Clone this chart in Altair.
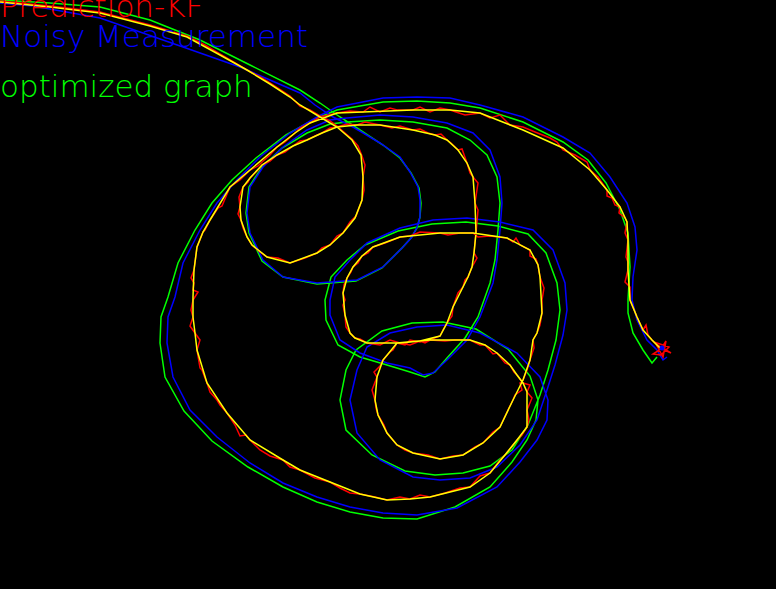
import altair as alt
import pandas as pd

# Path coordinates (pixel-like units, y grows downward)
yellow_pts = [
(0,2),(50,7),(100,13),(150,26),(187,37),(220,55),(247,70),(270,84),(290,97),(300,105),(320,117),(337,127),(352,140),(361,155),(363,177),(362,200),(355,218),(343,233),(330,245),(317,253),(290,263),(267,257),(252,245),(247,237),(241,220),(240,207),(243,187),(250,178),(262,165),(277,155),(293,146),(307,140),(322,133),(337,127),(357,125),(380,125),(413,130),(435,135),(447,140),(458,150),(467,163),(473,177),(475,203),(476,233),(474,253),(472,267),(468,277),(463,287),(453,307),(447,323),(440,336),(420,341),(400,343),(367,343),(355,338),(350,333),(345,315),(343,293),(347,278),(353,267),(362,256),(373,247),(400,237),(440,233),(473,233),(507,238),(530,250),(538,265),(540,277),(542,313),(537,333),(533,340),(530,360),(523,380),(513,400),(500,427),(483,443),(463,455),(440,459),(413,453),(397,445),(387,433),(378,415),(375,400),(377,377),(383,360),(397,343),(430,340),(470,340),(485,345),(497,353),(510,365),(517,375),(523,383),(527,392),(527,427),(517,440),(505,455),(490,473),(470,487),(430,497),(410,499),(387,500),(360,494),(330,482),(300,470),(283,460),(250,440),(227,413),(207,383),(197,350),(195,333),(193,317),(193,297),(194,270),(197,247),(203,232),(210,220),(230,187),(250,170),(277,147),(295,133),(310,123),(337,113),(363,112),(413,110),(450,110),(480,113),(523,130),(563,148),(590,170),(607,190),(620,207),(627,222),(628,240),(628,270),(630,300),(637,317),(643,330),(652,340),(660,348)]

red_pts = [
(0,1),(50,6),(100,12),(150,25),(187,36),(205,45),(220,54),(247,70),(262,78),(270,83),(290,96),(300,106),(310,110),(320,116),(330,121),(337,126),(345,133),(352,139),(358,146),(362,156),(365,165),(363,177),(364,190),(362,200),(356,216),(350,222),(343,233),(337,236),(330,245),(322,248),(317,253),(305,258),(290,263),(278,258),(267,257),(260,252),(252,245),(247,237),(243,228),(241,220),(238,214),(240,207),(239,197),(243,187),(248,182),(250,178),(258,170),(262,165),(270,161),(277,155),(285,152),(293,146),(300,141),(307,140),(315,136),(322,133),(330,128),(337,127),(347,124),(357,125),(365,122),(380,125),(392,128),(400,126),(413,130),(420,129),(428,133),(435,135),(441,134),(447,140),(451,143),(458,150),(462,149),(467,163),(470,173),(473,177),(478,183),(475,203),(478,210),(476,233),(474,253),(477,258),(472,267),(468,277),(465,280),(463,287),(458,293),(453,307),(452,316),(447,323),(443,330),(440,336),(432,339),(425,343),(420,341),(410,345),(400,343),(390,340),(380,345),(367,343),(360,339),(355,338),(350,333),(346,327),(345,315),(343,305),(345,300),(343,293),(344,285),(347,278),(351,272),(353,267),(358,263),(362,256),(368,253),(373,247),(385,243),(400,237),(410,236),(420,232),(440,233),(448,235),(460,233),(473,233),(478,237),(490,236),(507,238),(513,242),(516,238),(520,245),(530,250),(530,256),(536,259),(538,265),(540,277),(544,288),(542,300),(542,313),(540,325),(537,333),(533,340),(534,348),(530,360),(527,370),(523,380),(520,383),(522,390),(515,395),(513,400),(508,410),(500,427),(493,432),(483,443),(475,447),(463,455),(453,456),(440,459),(428,455),(413,453),(405,450),(397,445),(387,433),(384,425),(378,415),(376,408),(375,400),(372,390),(377,377),(374,372),(380,366),(383,360),(390,352),(393,350),(397,343),(405,345),(410,340),(420,342),(430,340),(445,341),(455,340),(470,340),(480,345),(485,345),(493,354),(497,353),(505,363),(510,365),(514,372),(517,375),(523,383),(530,385),(527,392),(532,398),(527,410),(529,420),(527,427),(522,435),(517,440),(510,449),(505,455),(500,460),(490,473),(480,476),(470,487),(460,488),(445,493),(430,497),(420,495),(410,499),(400,497),(387,500),(375,497),(360,494),(350,493),(340,488),(330,482),(315,478),(300,470),(290,467),(283,460),(270,456),(260,450),(250,440),(246,435),(240,436),(235,425),(227,413),(220,405),(217,400),(210,392),(207,383),(205,378),(202,370),(200,368),(197,350),(200,340),(195,333),(190,326),(193,317),(191,310),(193,300),(198,292),(193,290),(194,283),(191,278),(194,270),(197,247),(203,232),(205,230),(210,220),(218,208),(222,206),(230,187),(240,180),(250,170),(258,166),(262,162),(270,155),(277,147),(285,142),(295,133),(300,128),(310,123),(320,117),(337,113),(350,111),(363,112),(370,107),(380,112),(390,108),(397,110),(413,110),(420,107),(430,112),(440,108),(450,110),(465,115),(480,113),(490,118),(500,115),(510,125),(523,127),(535,132),(550,138),(557,142),(563,150),(575,155),(587,162),(590,170),(598,177),(607,190),(607,196),(612,198),(615,205),(620,207),(619,213),(625,218),(627,222),(625,233),(628,240),(626,257),(628,262),(628,270),(625,282),(630,287),(630,300),(635,312),(637,317),(643,330),(646,325),(648,335),(652,340),(660,348),(654,342),(669,347),(661,355),(653,354),(661,349),(666,341),(663,357),(656,344),(671,353),(660,348)]

blue_pts = [
(0,3),(33,6),(100,18),(183,47),(240,67),(300,93),(315,105),(333,117),(353,127),(380,143),(400,157),(410,172),(418,187),(420,200),(420,217),(417,227),(412,237),(403,247),(383,267),(357,280),(317,283),(283,277),(263,260),(250,233),(247,213),(250,187),(263,167),(283,147),(307,130),(330,120),(347,118),(380,115),(413,117),(447,123),(473,133),(490,150),(500,177),(502,203),(500,230),(497,260),(493,283),(480,317),(467,340),(447,360),(433,373),(423,375),(410,368),(387,363),(360,353),(340,340),(330,315),(330,300),(335,277),(350,260),(367,243),(400,228),(433,220),(467,218),(500,222),(533,230),(553,250),(565,283),(567,310),(563,335),(555,365),(547,390),(537,420),(520,445),(497,467),(470,478),(440,480),(413,477),(380,460),(357,433),(350,400),(357,370),(367,347),(390,333),(417,327),(447,325),(480,333),(517,353),(540,377),(548,400),(547,420),(537,440),(520,462),(497,487),(457,508),(417,515),(383,513),(350,507),(317,497),(283,483),(250,463),(217,437),(190,410),(173,377),(167,343),(168,317),(175,297),(183,263),(200,230),(217,203),(237,180),(260,157),(290,133),(317,117),(337,107),(383,98),(417,97),(450,98),(480,105),(523,117),(563,137),(590,153),(610,177),(627,203),(635,227),(637,250),(633,277),(632,300),(637,320),(647,340),(657,350),(663,360),(667,357)]

green_pts = [
(0,0),(50,3),(100,7),(150,20),(200,40),(250,65),(300,90),(320,103),(340,117),(360,130),(383,145),(400,158),(411,173),(419,188),(421,203),(420,217),(417,228),(411,238),(402,248),(382,268),(356,281),(317,284),(283,277),(262,261),(249,233),(246,213),(249,187),(262,167),(282,148),(307,133),(330,124),(347,122),(380,120),(413,122),(447,128),(470,140),(487,155),(497,177),(500,203),(498,230),(495,260),(490,283),(478,317),(465,338),(447,358),(435,372),(425,377),(410,372),(387,365),(360,357),(338,345),(326,320),(325,300),(331,277),(347,260),(365,245),(398,231),(432,224),(466,222),(498,226),(528,234),(546,253),(557,283),(560,310),(556,340),(548,370),(540,395),(528,425),(512,450),(490,466),(463,473),(435,475),(405,471),(372,455),(346,430),(340,400),(346,370),(356,350),(382,331),(412,323),(443,322),(476,329),(508,349),(530,376),(538,400),(536,420),(527,440),(512,462),(490,487),(455,507),(417,519),(383,518),(350,512),(317,502),(283,487),(248,467),(212,441),(184,411),(165,377),(160,343),(161,317),(168,297),(178,263),(195,230),(212,203),(232,180),(256,158),(286,135),(315,119),(337,110),(383,102),(417,101),(450,103),(480,108),(523,122),(563,142),(588,160),(606,183),(620,210),(628,233),(630,267),(628,300),(628,313),(633,333),(643,350),(652,363),(657,357)]

end_dot = [(662, 348)]

labels = ["Prediction-KF", "Noisy Measurement", "optimized graph"]
label_colors = ["#ff0000", "#0000ff", "#00ff00"]
label_y = [17, 47, 97]

W, H = 776, 589
xs = alt.Scale(domain=[0, W], nice=False, zero=False)
ys = alt.Scale(domain=[0, H], nice=False, zero=False, reverse=True)


def frame(pts):
    return pd.DataFrame({"x": [p[0] for p in pts], "y": [p[1] for p in pts], "i": list(range(len(pts)))})


def path(pts, color, w=1.5):
    return alt.Chart(frame(pts)).mark_line(color=color, strokeWidth=w).encode(
        x=alt.X("x:Q", scale=xs, axis=None),
        y=alt.Y("y:Q", scale=ys, axis=None),
        order="i:Q",
    )


text_df = pd.DataFrame({"t": labels, "c": label_colors, "y": label_y, "x": [0, 0, 0]})
texts = alt.Chart(text_df).mark_text(
    align="left", baseline="alphabetic", font="DejaVu Sans", fontSize=31, fontWeight=200
).encode(
    x=alt.X("x:Q", scale=xs, axis=None),
    y=alt.Y("y:Q", scale=ys, axis=None),
    text="t:N",
    color=alt.Color("c:N", scale=None),
)

dot = alt.Chart(frame(end_dot)).mark_circle(color="#0000ff", opacity=1, size=25).encode(
    x=alt.X("x:Q", scale=xs, axis=None),
    y=alt.Y("y:Q", scale=ys, axis=None),
)

chart = alt.layer(
    path(green_pts, "#00ff00"),
    path(blue_pts, "#0000ff"),
    path(red_pts, "#ff0000"),
    path(yellow_pts, "#ffff00"),
    dot,
    texts,
).properties(
    width=W, height=H, background="#000000", padding=0,
    autosize=alt.AutoSizeParams(type="none"),
).configure_view(stroke=None)

chart.save("out.html", embed_options={"renderer": "svg", "actions": False})
